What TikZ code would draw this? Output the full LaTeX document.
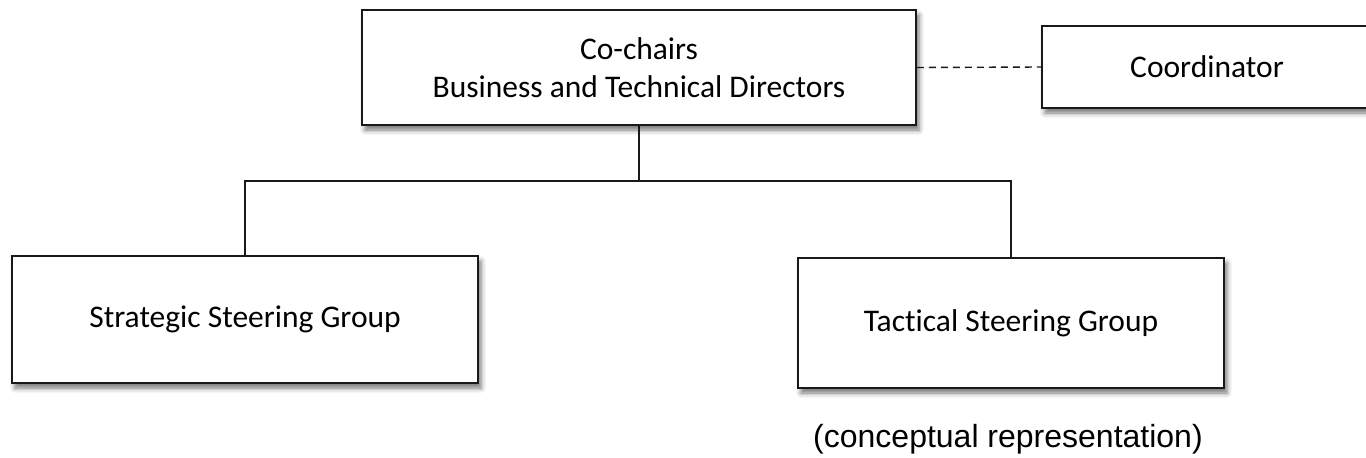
\documentclass[tikz,border=0pt]{standalone}
\usepackage{fontspec}
\setmainfont[Ligatures={NoCommon,NoRare}]{Carlito}
\newfontfamily\arialfont{Liberation Sans}
\usetikzlibrary{shadows.blur}
\begin{document}
\begin{tikzpicture}[x=1pt,y=-1pt,
  orgbox/.style={draw=black!90, line width=1.6pt, fill=white, inner sep=0pt,
    align=center, font=\fontsize{31.5}{38.4}\selectfont,
    blur shadow={shadow xshift=3pt, shadow yshift=-5pt, shadow blur radius=5pt,
      shadow opacity=55}},
  link/.style={draw=black!90, line width=1.6pt},
  dotted link/.style={link, line width=1.4pt, dash pattern=on 7pt off 5pt}]
  \useasboundingbox (0,0) rectangle (1366,458);
  \clip (0,0) rectangle (1366,458);

  % top level and coordinator
  \node[orgbox, minimum width=554pt, minimum height=115pt] (chairs) at (639,67.5)
    {Co-chairs\\Business and Technical Directors};
  \node[orgbox, minimum width=330pt, minimum height=82pt] (coord) at (1207,67)
    {Coordinator};

  % steering groups
  \node[orgbox, minimum width=466pt, minimum height=127pt] (strategic) at (245,319.5)
    {Strategic Steering Group};
  \node[orgbox, minimum width=426pt, minimum height=130pt] (tactical) at (1011,323)
    {Tactical Steering Group};

  % connectors
  \coordinate (junction) at (639,181);
  \draw[link] (chairs.south) -- (junction);
  \draw[link] (strategic.north) |- (junction) -| (tactical.north);
  \draw[dotted link] (chairs.east) -- (coord.west);

  % caption
  \node[anchor=base, inner sep=0pt, font=\arialfont\fontsize{32}{38}\selectfont]
    (note) at (1008,447) {(conceptual representation)};
\end{tikzpicture}
\end{document}
